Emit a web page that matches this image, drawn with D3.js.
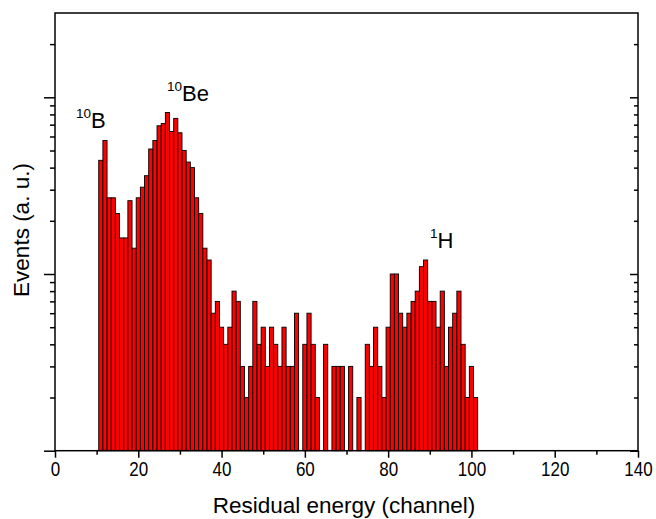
<!DOCTYPE html>
<html>
<head>
<meta charset="utf-8">
<script src="https://cdn.jsdelivr.net/npm/d3@7"></script>
<style>
  html, body { margin: 0; padding: 0; background: #fff; }
  svg { display: block; }
  text { font-family: "Liberation Sans", Arial, sans-serif; fill: #000; }
</style>
</head>
<body>
<svg id="chart" width="656" height="519"></svg>
<script>
// ---- data ----
const channels = d3.range(11, 102); // 11 .. 101
const counts = [
  44, 57, 27, 27, 22, 16, 16, 26, 14, 27,   // 11-20
  31, 36, 51, 57, 69, 71, 82, 64, 76, 63,   // 21-30
  50, 43, 40, 27, 22, 14, 12, 6, 7, 5,      // 31-40
  4, 5, 8, 7, 3, 2, 3, 7, 4, 5,             // 41-50
  3, 5, 4, 3, 5, 3, 3, 6, 0, 4,             // 51-60
  6, 4, 2, 0, 4, 0, 3, 3, 3, 0,             // 61-70
  3, 0, 2, 0, 4, 3, 5, 3, 2, 5,             // 71-80
  10, 10, 6, 5, 6, 7, 8, 11, 12, 7,         // 81-90
  7, 5, 8, 3, 5, 6, 8, 4, 2, 3,             // 91-100
  2                                          // 101
];
const xTickLabels = [0, 20, 40, 60, 80, 100, 120, 140];
const xMinorTicks = [10, 30, 50, 70, 90, 110, 130];
const yMajorTicks = [1, 10, 100];
const yMinorTicks = [2,3,4,5,6,7,8,9,20,30,40,50,60,70,80,90,200];
const annotations = [
  { sup: "10", main: "B" },
  { sup: "10", main: "Be" },
  { sup: "1",  main: "H" }
];
const xTitle = "Residual energy (channel)";
const yTitle = "Events (a. u.)";

// ---- layout ----
const L = 55, R = 638, T = 13, B = 450.7;
const svg = d3.select("#chart");
const x = d3.scaleLinear().domain([0, 140]).range([L, R]);
const y = d3.scaleLog().domain([1, 300]).range([B, T]);

const data = channels.map((c, i) => ({ c, v: counts[i] })).filter(d => d.v > 0);

// bars
svg.append("g").selectAll("rect").data(data).join("rect")
  .attr("x", d => x(d.c - 0.5))
  .attr("width", d => x(d.c + 0.5) - x(d.c - 0.5))
  .attr("y", d => y(d.v))
  .attr("height", d => y(1) - y(d.v))
  .attr("fill", "#ff0000")
  .attr("stroke", "#000")
  .attr("stroke-width", 0.9);

// axes
function styleAxis(g) {
  g.select(".domain").remove();
  g.selectAll("line").attr("stroke", "#000").attr("stroke-width", 1.5);
}
svg.append("g").attr("transform", `translate(0,${B})`)
  .call(d3.axisBottom(x).tickValues(xTickLabels).tickSize(7).tickFormat(d3.format("d")))
  .call(styleAxis)
  .call(g => g.selectAll("text")
    .attr("y", 0).attr("dy", 0)
    .attr("transform", "translate(0,25.5) scale(1,1.22)")
    .style("font-size", "17px")
    .attr("font-family", "Liberation Sans, Arial, sans-serif"));
svg.append("g").attr("transform", `translate(0,${B})`)
  .call(d3.axisBottom(x).tickValues(xMinorTicks).tickSize(4).tickFormat(""))
  .call(styleAxis);

svg.append("g").attr("transform", `translate(${L},0)`)
  .call(d3.axisLeft(y).tickValues(yMajorTicks).tickSize(11).tickFormat(""))
  .call(styleAxis);
svg.append("g").attr("transform", `translate(${L},0)`)
  .call(d3.axisLeft(y).tickValues(yMinorTicks).tickSize(5).tickFormat(""))
  .call(styleAxis);
svg.append("g").attr("transform", `translate(${R},0)`)
  .call(d3.axisLeft(y).tickValues(yMajorTicks).tickSize(8).tickFormat(""))
  .call(styleAxis);
svg.append("g").attr("transform", `translate(${R},0)`)
  .call(d3.axisLeft(y).tickValues(yMinorTicks).tickSize(4).tickFormat(""))
  .call(styleAxis);

// frame
svg.append("rect")
  .attr("x", L).attr("y", T).attr("width", R - L).attr("height", B - T)
  .attr("fill", "none").attr("stroke", "#000").attr("stroke-width", 1.5);

// titles
svg.append("text")
  .attr("x", 344).attr("y", 513)
  .attr("text-anchor", "middle").style("font-size", "22.5px")
  .text(xTitle);
svg.append("text")
  .attr("transform", `translate(29,230) rotate(-90)`)
  .attr("text-anchor", "middle").style("font-size", "22.5px")
  .text(yTitle);

// annotations
const annPos = [
  { dx: 76, base: 128 },
  { dx: 167, base: 101 },
  { dx: 430, base: 248 }
];
annotations.forEach((a, i) => {
  const t = svg.append("text")
    .attr("x", annPos[i].dx).attr("y", annPos[i].base)
    .style("font-size", "22px");
  t.append("tspan").text(a.sup).style("font-size", "13.5px").attr("dy", "-10");
  t.append("tspan").text(a.main).attr("dy", "10");
});
</script>
</body>
</html>
